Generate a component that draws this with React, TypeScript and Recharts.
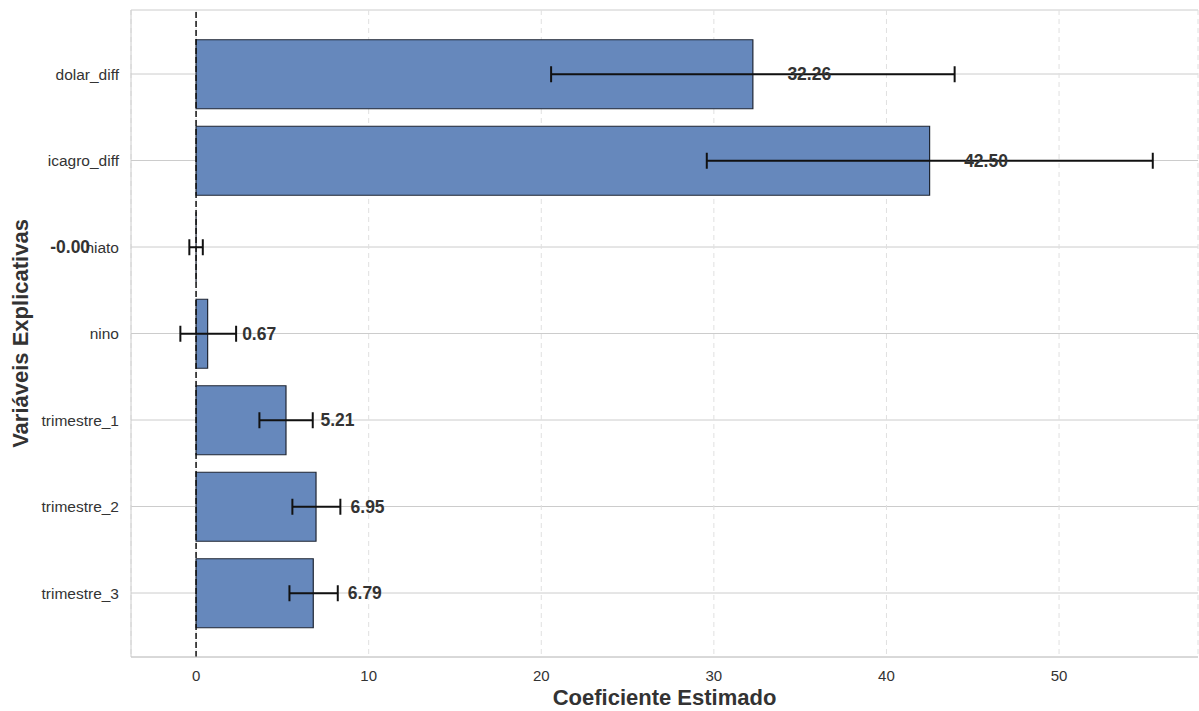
import React from "react";
import {
  BarChart,
  Bar,
  XAxis,
  YAxis,
  CartesianGrid,
  ErrorBar,
  ReferenceLine,
  ReferenceDot,
} from "recharts";

const variables = [
  "dolar_diff",
  "icagro_diff",
  "hiato",
  "nino",
  "trimestre_1",
  "trimestre_2",
  "trimestre_3",
];
const coefficients = [32.26, 42.5, -0.001, 0.67, 5.21, 6.95, 6.79];
const ciLower = [20.57, 29.59, -0.39, -0.91, 3.67, 5.58, 5.41];
const ciUpper = [43.95, 55.43, 0.39, 2.32, 6.76, 8.36, 8.21];
const xTicks = [0, 10, 20, 30, 40, 50];
const xDomain = [-3.77, 58.05];

const data = variables.map((name, i) => ({
  name,
  coef: coefficients[i],
  err: [coefficients[i] - ciLower[i], ciUpper[i] - coefficients[i]],
  labelX: coefficients[i] >= 0 ? coefficients[i] + 2 : coefficients[i] - 8.45,
}));

const FONT = "'Liberation Sans', Arial, Helvetica, sans-serif";
const TEXT = "#333333";
const GRID = "#cccccc";

function YTitle(props: any) {
  const vb = props.viewBox || { x: 0, y: 10, width: 131, height: 647 };
  const cx = vb.x + 20;
  const cy = vb.y + vb.height / 2;
  return (
    <text
      x={cx}
      y={cy}
      transform={`rotate(-90, ${cx}, ${cy})`}
      textAnchor="middle"
      dy="0.36em"
      fontSize={22}
      fontWeight="bold"
      fill={TEXT}
    >
      Variáveis Explicativas
    </text>
  );
}

export default function App() {
  return (
    <div style={{ position: "absolute", left: 0, top: 0, fontFamily: FONT, background: "#fff" }}>
      <BarChart
        width={1199}
        height={711}
        data={data}
        layout="vertical"
        margin={{ top: 10, right: 1, bottom: 0, left: 0 }}
        barSize={69}
      >
        <CartesianGrid horizontal={true} vertical={false} stroke={GRID} />
        <CartesianGrid horizontal={false} vertical={true} stroke="#e0e0e0" strokeDasharray="5 4" />
        <XAxis
          type="number"
          domain={xDomain}
          ticks={xTicks}
          allowDataOverflow
          tickLine={false}
          axisLine={{ stroke: GRID }}
          tick={{ fill: TEXT, fontSize: 15 }}
          tickMargin={7}
          height={54}
          label={{
            value: "Coeficiente Estimado",
            position: "insideBottom",
            offset: 6,
            style: { fontSize: 22, fontWeight: "bold", fill: TEXT },
          }}
        />
        <XAxis
          xAxisId="top"
          orientation="top"
          type="number"
          domain={xDomain}
          allowDataOverflow
          height={0}
          tick={false}
          tickLine={false}
          axisLine={{ stroke: GRID }}
        />
        <YAxis
          type="category"
          dataKey="name"
          width={131}
          interval={0}
          padding={{ top: 20.75, bottom: 20.75 }}
          tickLine={false}
          axisLine={{ stroke: GRID }}
          tick={{ fill: TEXT, fontSize: 15.5 }}
          tickMargin={6}
          label={{ content: (p: any) => <YTitle {...p} /> }}
        />
        <YAxis
          yAxisId="right"
          orientation="right"
          type="category"
          dataKey="name"
          width={0}
          tick={false}
          tickLine={false}
          axisLine={{ stroke: GRID }}
        />
        <Bar
          dataKey="coef"
          fill="#6688bc"
          stroke="#1f2633"
          strokeWidth={1.2}
          isAnimationActive={false}
        >
          <ErrorBar
            dataKey="err"
            direction="x"
            width={8}
            stroke="#111111"
            strokeWidth={2}
            isAnimationActive={false}
          />
        </Bar>
        <ReferenceLine x={0} stroke="#111111" strokeDasharray="6 3" strokeWidth={1.5} />
        {data.map((d) => (
          <ReferenceDot
            key={d.name}
            x={d.labelX}
            y={d.name}
            r={0}
            fill="none"
            stroke="none"
            ifOverflow="visible"
            label={{
              content: (p: any) => (
                <text
                  x={p.viewBox ? p.viewBox.x : 0}
                  y={p.viewBox ? p.viewBox.y : 0}
                  dy="0.36em"
                  textAnchor="start"
                  fontSize={17.5}
                  fontWeight="bold"
                  fill={TEXT}
                >
                  {d.coef.toFixed(2)}
                </text>
              ),
            }}
          />
        ))}
      </BarChart>
    </div>
  );
}
